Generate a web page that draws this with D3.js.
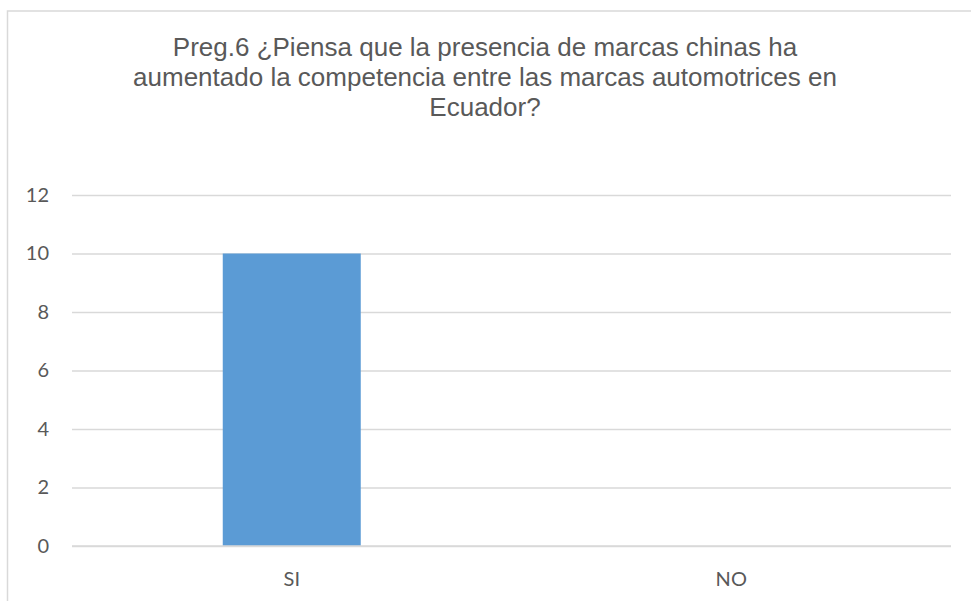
<!DOCTYPE html>
<html><head><meta charset="utf-8">
<script src="https://cdn.jsdelivr.net/npm/d3@7"></script>
<style>html,body{margin:0;padding:0;background:#fff;}svg{display:block;}</style>
</head><body>
<script>
const titleLines = ["Preg.6 ¿Piensa que la presencia de marcas chinas ha",
                    "aumentado la competencia entre las marcas automotrices en",
                    "Ecuador?"];
const categories = ["SI", "NO"];
const values = [10, 0];
const yTicks = [0, 2, 4, 6, 8, 10, 12];

const W = 971, H = 601;
const plot = {left: 72, right: 951, top: 195, bottom: 546};

const svg = d3.select("body").append("svg").attr("width", W).attr("height", H);
svg.append("rect").attr("width", W).attr("height", H).attr("fill", "#fff");

// chart frame
svg.append("rect").attr("x", 7.5).attr("y", 11).attr("width", W + 10).attr("height", H + 10)
  .attr("fill", "none").attr("stroke", "#d9d9d9").attr("stroke-width", 1.5);

// title
svg.append("g").selectAll("text").data(titleLines).join("text")
  .attr("x", 485)
  .attr("y", (d, i) => 56 + i * 30)
  .attr("text-anchor", "middle")
  .attr("font-family", "'Liberation Sans', Arial, sans-serif")
  .attr("font-size", 26).attr("fill", "#595959")
  .text(d => d);

const y = d3.scaleLinear().domain([0, 12]).range([plot.bottom, plot.top]);
const x = d3.scaleBand().domain(categories).range([plot.left, plot.right]).padding(0);

// gridlines
const yAxis = d3.axisLeft(y).tickValues(yTicks).tickSize(-(plot.right - plot.left)).tickPadding(23);
const gy = svg.append("g").attr("transform", `translate(${plot.left},0)`).call(yAxis);
gy.select(".domain").remove();
gy.selectAll(".tick line").attr("stroke", "#d9d9d9").attr("stroke-width", 1.5);
gy.selectAll(".tick text").attr("font-family", "Lato, sans-serif").attr("font-size", 20)
  .attr("fill", "#595959");

// bars
const barFrac = 0.314;
svg.append("g").selectAll("rect").data(categories).join("rect")
  .attr("x", (d) => x(d) + x.bandwidth() * (1 - barFrac) / 2)
  .attr("width", x.bandwidth() * barFrac)
  .attr("y", (d, i) => y(values[i]))
  .attr("height", (d, i) => y(0) - y(values[i]))
  .attr("fill", "#5b9bd5");

// x axis baseline
svg.append("line").attr("x1", plot.left).attr("x2", plot.right)
  .attr("y1", y(0)).attr("y2", y(0)).attr("stroke", "#d9d9d9").attr("stroke-width", 1.5);

// x labels
const xAxis = d3.axisBottom(x).tickSize(0).tickPadding(26);
const gx = svg.append("g").attr("transform", `translate(0,${plot.bottom})`).call(xAxis);
gx.select(".domain").remove();
gx.selectAll(".tick text").attr("font-family", "Lato, sans-serif").attr("font-size", 20)
  .attr("fill", "#595959");
</script>
</body></html>
